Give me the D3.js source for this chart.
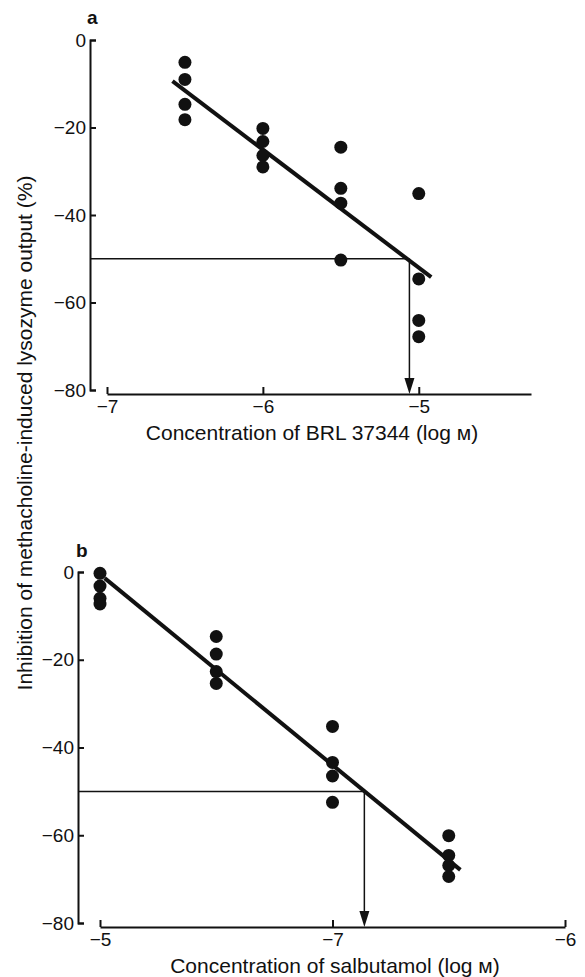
<!DOCTYPE html>
<html>
<head>
<meta charset="utf-8">
<script src="https://cdn.jsdelivr.net/npm/d3@7"></script>
<style>
body { margin: 0; background: #fff; }
text { font-family: "Liberation Sans", Arial, sans-serif; fill: #111; }
</style>
</head>
<body>
<div id="chart"></div>
<script>
var svgWidth = 585;
var svgHeight = 977;

// Panel a: BRL 37344
var doseA = [-6.5, -6, -5.5, -5];
var respA = [
  [-5.1, -9.0, -14.7, -18.2],
  [-20.2, -23.2, -26.4, -29.0],
  [-24.5, -33.9, -37.3, -50.3],
  [-35.1, -54.6, -64.1, -67.8]
];
var fitA = [[-6.58, -9.4], [-4.92, -54.2]];
var ic50A = -5.06;
var xTicksA = [-7, -6, -5];

// Panel b: salbutamol (axis positions 0..2 carry the printed labels)
var doseB = [0, 0.5, 1, 1.5];
var respB = [
  [-0.3, -3.2, -6.0, -7.3],
  [-14.7, -18.7, -22.7, -25.4],
  [-35.2, -43.4, -46.5, -52.5],
  [-60.1, -64.6, -66.9, -69.4]
];
var fitB = [[0.02, -1.4], [1.55, -67.9]];
var ic50B = 1.137;
var xTicksB = [0, 1, 2];
var xLabelsB = ["\u22125", "\u22127", "\u22126"];

var yTicks = [0, -20, -40, -60, -80];

var svg = d3.select("#chart")
  .append("svg")
  .attr("width", svgWidth)
  .attr("height", svgHeight);

function drawPanel(p) {
  var x = d3.scaleLinear().domain(p.xDomain).range(p.xRange);
  var y = d3.scaleLinear().domain([0, -80]).range(p.yRange);

  // y axis, ticks pointing inward
  var yAxis = svg.append("g")
    .attr("transform", `translate(${p.yAxisX},0)`)
    .call(d3.axisLeft(y).tickValues(yTicks).tickSize(-6).tickSizeOuter(-6).tickPadding(4)
      .tickFormat(d => d === 0 ? "0" : "\u2212" + Math.abs(d)));

  // x axis, ticks pointing up
  var xAxis = svg.append("g")
    .attr("transform", `translate(0,${p.xAxisY})`)
    .call(d3.axisBottom(x).tickValues(p.xTicks).tickSize(-7).tickSizeOuter(0).tickPadding(6)
      .tickFormat(p.xFormat));

  [yAxis, xAxis].forEach(function(g) {
    g.select(".domain").attr("stroke", "#111").attr("stroke-width", 2);
    g.selectAll(".tick line").attr("stroke", "#111").attr("stroke-width", 2);
    g.selectAll(".tick text").attr("font-size", 19).attr("fill", "#111")
      .attr("font-family", "Liberation Sans, Arial, sans-serif");
  });

  // 50% reference line and arrow
  var yHalf = y(-50);
  var xHalf = x(p.ic50);
  svg.append("line")
    .attr("x1", p.yAxisX).attr("y1", yHalf)
    .attr("x2", xHalf).attr("y2", yHalf)
    .attr("stroke", "#111").attr("stroke-width", 1.5);
  svg.append("line")
    .attr("x1", xHalf).attr("y1", yHalf)
    .attr("x2", xHalf).attr("y2", p.xAxisY - 10)
    .attr("stroke", "#111").attr("stroke-width", 1.5);
  svg.append("path")
    .attr("d", `M${xHalf - 5},${p.xAxisY - 16}L${xHalf + 5},${p.xAxisY - 16}L${xHalf},${p.xAxisY}Z`)
    .attr("fill", "#111");

  // regression line
  svg.append("line")
    .attr("x1", x(p.fit[0][0])).attr("y1", y(p.fit[0][1]))
    .attr("x2", x(p.fit[1][0])).attr("y2", y(p.fit[1][1]))
    .attr("stroke", "#111").attr("stroke-width", 4);

  // points
  var pts = [];
  p.dose.forEach(function(d, i) {
    p.resp[i].forEach(function(r) { pts.push({x: d, y: r}); });
  });
  svg.append("g").selectAll("circle")
    .data(pts)
    .enter()
    .append("circle")
    .attr("cx", d => x(d.x))
    .attr("cy", d => y(d.y))
    .attr("r", 6.5)
    .attr("fill", "#111");

  // panel letter
  svg.append("text")
    .attr("x", p.letterPos[0]).attr("y", p.letterPos[1])
    .attr("font-size", 19).attr("font-weight", "bold")
    .text(p.letter);

  // x title
  svg.append("text")
    .attr("x", p.titleX).attr("y", p.xAxisY + 46)
    .attr("text-anchor", "middle")
    .attr("font-size", 21)
    .text(p.title);
}

drawPanel({
  xDomain: [-7, -4.28], xRange: [107, 531], yRange: [40, 390],
  yAxisX: 90, xAxisY: 394,
  xTicks: xTicksA, xFormat: d => "\u2212" + Math.abs(d),
  dose: doseA, resp: respA, fit: fitA, ic50: ic50A,
  letter: "a", letterPos: [87, 24],
  title: "Concentration of BRL 37344 (log \u043c)", titleX: 312
});

drawPanel({
  xDomain: [0, 2], xRange: [100, 565], yRange: [572, 923],
  yAxisX: 78, xAxisY: 927,
  xTicks: xTicksB, xFormat: (d, i) => xLabelsB[i],
  dose: doseB, resp: respB, fit: fitB, ic50: ic50B,
  letter: "b", letterPos: [76, 557],
  title: "Concentration of salbutamol (log \u043c)", titleX: 335
});

// shared y title
svg.append("text")
  .attr("transform", "translate(32,433) rotate(-90)")
  .attr("text-anchor", "middle")
  .attr("font-size", 21)
  .text("Inhibition of methacholine-induced lysozyme output (%)");
</script>
</body>
</html>
